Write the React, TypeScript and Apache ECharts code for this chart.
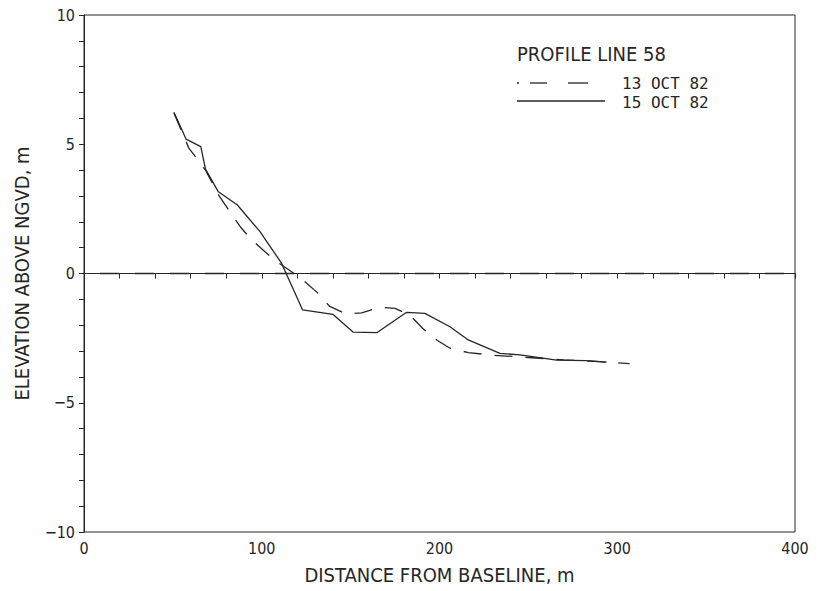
import React, { useEffect, useRef } from "react";
import * as echarts from "echarts";

// 15 OCT 82 profile (solid)
const distOct15 = [50.6, 57.4, 65.7, 68.4, 75.6, 86.3, 99.0, 111.2, 123.0, 140.0, 151.5, 164.7, 181.5, 191.8, 205.9, 216.2, 234.0, 245.3, 265.9, 282.8, 294.0];
const elevOct15 = [6.24, 5.2, 4.91, 4.03, 3.16, 2.65, 1.62, 0.39, -1.41, -1.58, -2.27, -2.29, -1.5, -1.54, -2.06, -2.57, -3.09, -3.15, -3.35, -3.37, -3.43];

// 13 OCT 82 profile (dashed)
const distOct13 = [50.6, 59.0, 68.4, 76.0, 82.0, 88.0, 94.0, 101.8, 108.4, 116.8, 124.3, 131.8, 138.0, 147.4, 156.2, 166.1, 175.0, 183.4, 190.5, 198.4, 205.9, 216.2, 230.0, 250.0, 270.0, 290.0, 307.0];
const elevOct13 = [6.2, 4.85, 4.0, 3.0, 2.4, 1.8, 1.33, 0.84, 0.46, 0.07, -0.32, -0.77, -1.26, -1.57, -1.52, -1.31, -1.35, -1.61, -2.12, -2.57, -2.89, -3.06, -3.16, -3.25, -3.34, -3.41, -3.49];

// NGVD zero reference line
const zeroLineX = [9, 400];
const zeroLineY = [0, 0];

const titleText = "PROFILE LINE 58";
const legendLabels = ["13 OCT 82", "15 OCT 82"];
const xAxisName = "DISTANCE FROM BASELINE, m";
const yAxisName = "ELEVATION ABOVE NGVD, m";

const pair = (xs: number[], ys: number[]) => xs.map((x, i) => [x, ys[i]]);

const INK = "#262626";
const NARROW = "'Liberation Sans Narrow', 'DejaVu Sans Condensed', Roboto, sans-serif";
const MONO = "'DejaVu Sans Mono', 'Liberation Mono', monospace";

export default function App() {
  const ref = useRef<HTMLDivElement>(null);
  useEffect(() => {
    if (!ref.current) return;
    const chart = echarts.init(ref.current, undefined, { renderer: "svg" });
    chart.setOption({
      animation: false,
      backgroundColor: "#ffffff",
      textStyle: { fontFamily: NARROW, color: INK },
      grid: {
        left: 84,
        right: 31,
        top: 15,
        bottom: 59,
        show: true,
        borderColor: INK,
        borderWidth: 1,
        backgroundColor: "transparent",
      },
      xAxis: {
        type: "value",
        min: 0,
        max: 400,
        interval: 100,
        name: xAxisName,
        nameLocation: "middle",
        nameGap: 33,
        nameTextStyle: { fontFamily: NARROW, fontSize: 20, color: INK },
        axisLine: { show: true, lineStyle: { color: INK, width: 1 } },
        axisTick: { show: true, length: 5, lineStyle: { color: INK } },
        minorTick: { show: true, splitNumber: 5, length: 5, lineStyle: { color: INK } },
        splitLine: { show: false },
        axisLabel: { fontFamily: NARROW, fontSize: 16, color: INK, margin: 8 },
      },
      yAxis: {
        type: "value",
        min: -10,
        max: 10,
        interval: 5,
        name: yAxisName,
        nameLocation: "middle",
        nameGap: 52,
        nameTextStyle: { fontFamily: NARROW, fontSize: 20, color: INK },
        axisLine: { show: true, lineStyle: { color: INK, width: 1 } },
        axisTick: { show: true, length: 5, lineStyle: { color: INK } },
        minorTick: { show: true, splitNumber: 5, length: 5, lineStyle: { color: INK } },
        splitLine: { show: false },
        axisLabel: {
          fontFamily: NARROW,
          fontSize: 16,
          color: INK,
          margin: 9,
          formatter: (v: number) => (v < 0 ? "\u2212" + Math.abs(v) : String(v)),
        },
      },
      series: [
        {
          name: "zero",
          type: "line",
          data: pair(zeroLineX, zeroLineY),
          symbol: "none",
          silent: true,
          lineStyle: { color: INK, width: 1.3, type: [19, 16] },
        },
        {
          name: legendLabels[0],
          type: "line",
          data: pair(distOct13, elevOct13),
          symbol: "none",
          lineStyle: { color: INK, width: 1.3, type: [18, 13] },
        },
        {
          name: legendLabels[1],
          type: "line",
          data: pair(distOct15, elevOct15),
          symbol: "none",
          lineStyle: { color: INK, width: 1.3 },
        },
      ],
      graphic: [
        {
          type: "text",
          left: 517,
          top: 44,
          style: { text: titleText, font: `20px ${NARROW}`, fill: INK, lineHeight: 20 },
        },
        {
          type: "line",
          shape: { x1: 517, y1: 83, x2: 519, y2: 83 },
          style: { stroke: INK, lineWidth: 1.4 },
        },
        {
          type: "line",
          shape: { x1: 530, y1: 83, x2: 547, y2: 83 },
          style: { stroke: INK, lineWidth: 1.3 },
        },
        {
          type: "line",
          shape: { x1: 568, y1: 83, x2: 588, y2: 83 },
          style: { stroke: INK, lineWidth: 1.3 },
        },
        {
          type: "text",
          left: 622,
          top: 75,
          style: { text: legendLabels[0], font: `16px ${MONO}`, fill: INK, lineHeight: 16 },
        },
        {
          type: "line",
          shape: { x1: 517, y1: 101, x2: 605, y2: 101 },
          style: { stroke: INK, lineWidth: 1.3 },
        },
        {
          type: "text",
          left: 622,
          top: 94,
          style: { text: legendLabels[1], font: `16px ${MONO}`, fill: INK, lineHeight: 16 },
        },
      ],
    });
    return () => chart.dispose();
  }, []);
  return (
    <div
      ref={ref}
      style={{ position: "fixed", left: 0, top: 0, width: 826, height: 591, background: "#fff" }}
    />
  );
}
